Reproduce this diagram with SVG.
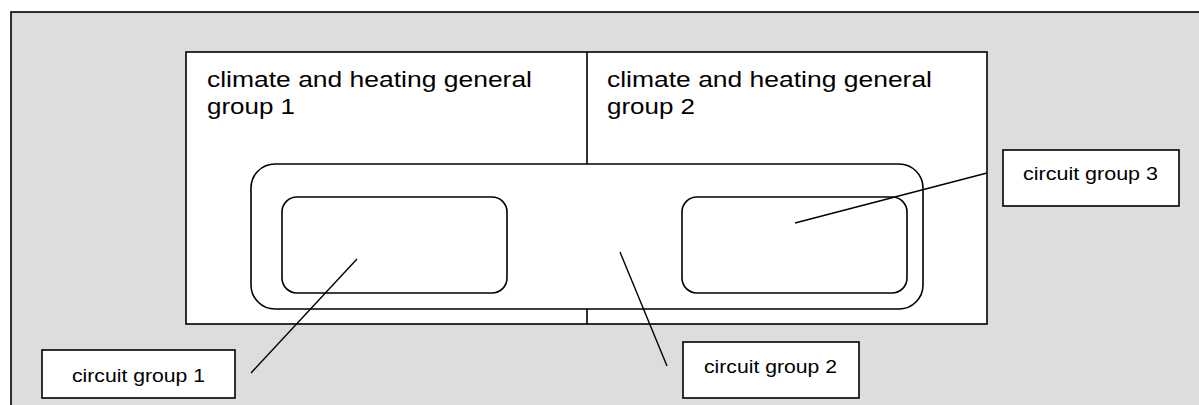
<svg xmlns="http://www.w3.org/2000/svg" width="1199" height="405" viewBox="0 0 1199 405">
<style>
.bg{fill:#dddddd;stroke:#000;stroke-width:1.6}
.box{fill:#fff;stroke:#000;stroke-width:1.6}
.rr{fill:#fff;stroke:#000;stroke-width:1.6}
.big{font-family:"Liberation Sans",Arial,sans-serif;font-size:22px;fill:#000}
.lbl{font-family:"Liberation Sans",Arial,sans-serif;font-size:18px;fill:#000}
.con line{stroke:#000;stroke-width:1.4}
</style>
<rect class="bg" x="11" y="12" width="1200" height="410"/>
<g id="general-groups">
<rect class="box" x="186" y="52" width="801" height="272"/>
<line x1="587" y1="52" x2="587" y2="324" stroke="#000" stroke-width="1.6"/>
</g>
<g id="general-group-1">
<text class="big" x="207" y="87" textLength="325" lengthAdjust="spacingAndGlyphs">climate and heating general</text>
<text class="big" x="207" y="114" textLength="88" lengthAdjust="spacingAndGlyphs">group 1</text>
</g>
<g id="general-group-2">
<text class="big" x="607" y="87" textLength="325" lengthAdjust="spacingAndGlyphs">climate and heating general</text>
<text class="big" x="607" y="114" textLength="88" lengthAdjust="spacingAndGlyphs">group 2</text>
</g>
<g id="circuit-group-2-shape">
<rect class="rr" x="251" y="164" width="672" height="145" rx="24" ry="24"/>
</g>
<g id="circuit-group-1-shape">
<rect class="rr" x="282" y="197" width="225" height="96" rx="15" ry="15"/>
</g>
<g id="circuit-group-3-shape">
<rect class="rr" x="682" y="197" width="225" height="96" rx="15" ry="15"/>
</g>
<g class="con" id="connectors">
<line x1="357" y1="259" x2="251" y2="373"/>
<line x1="620" y1="252" x2="667" y2="366"/>
<line x1="795" y1="223" x2="987" y2="173"/>
</g>
<g id="label-1">
<rect class="box" x="42" y="350" width="193" height="48"/>
<text class="lbl" x="72" y="382" textLength="133" lengthAdjust="spacingAndGlyphs">circuit group 1</text>
</g>
<g id="label-2">
<rect class="box" x="683" y="342" width="176" height="56"/>
<text class="lbl" x="704" y="373" textLength="133" lengthAdjust="spacingAndGlyphs">circuit group 2</text>
</g>
<g id="label-3">
<rect class="box" x="1003" y="150" width="176" height="56"/>
<text class="lbl" x="1023" y="180" textLength="135" lengthAdjust="spacingAndGlyphs">circuit group 3</text>
</g>
</svg>
